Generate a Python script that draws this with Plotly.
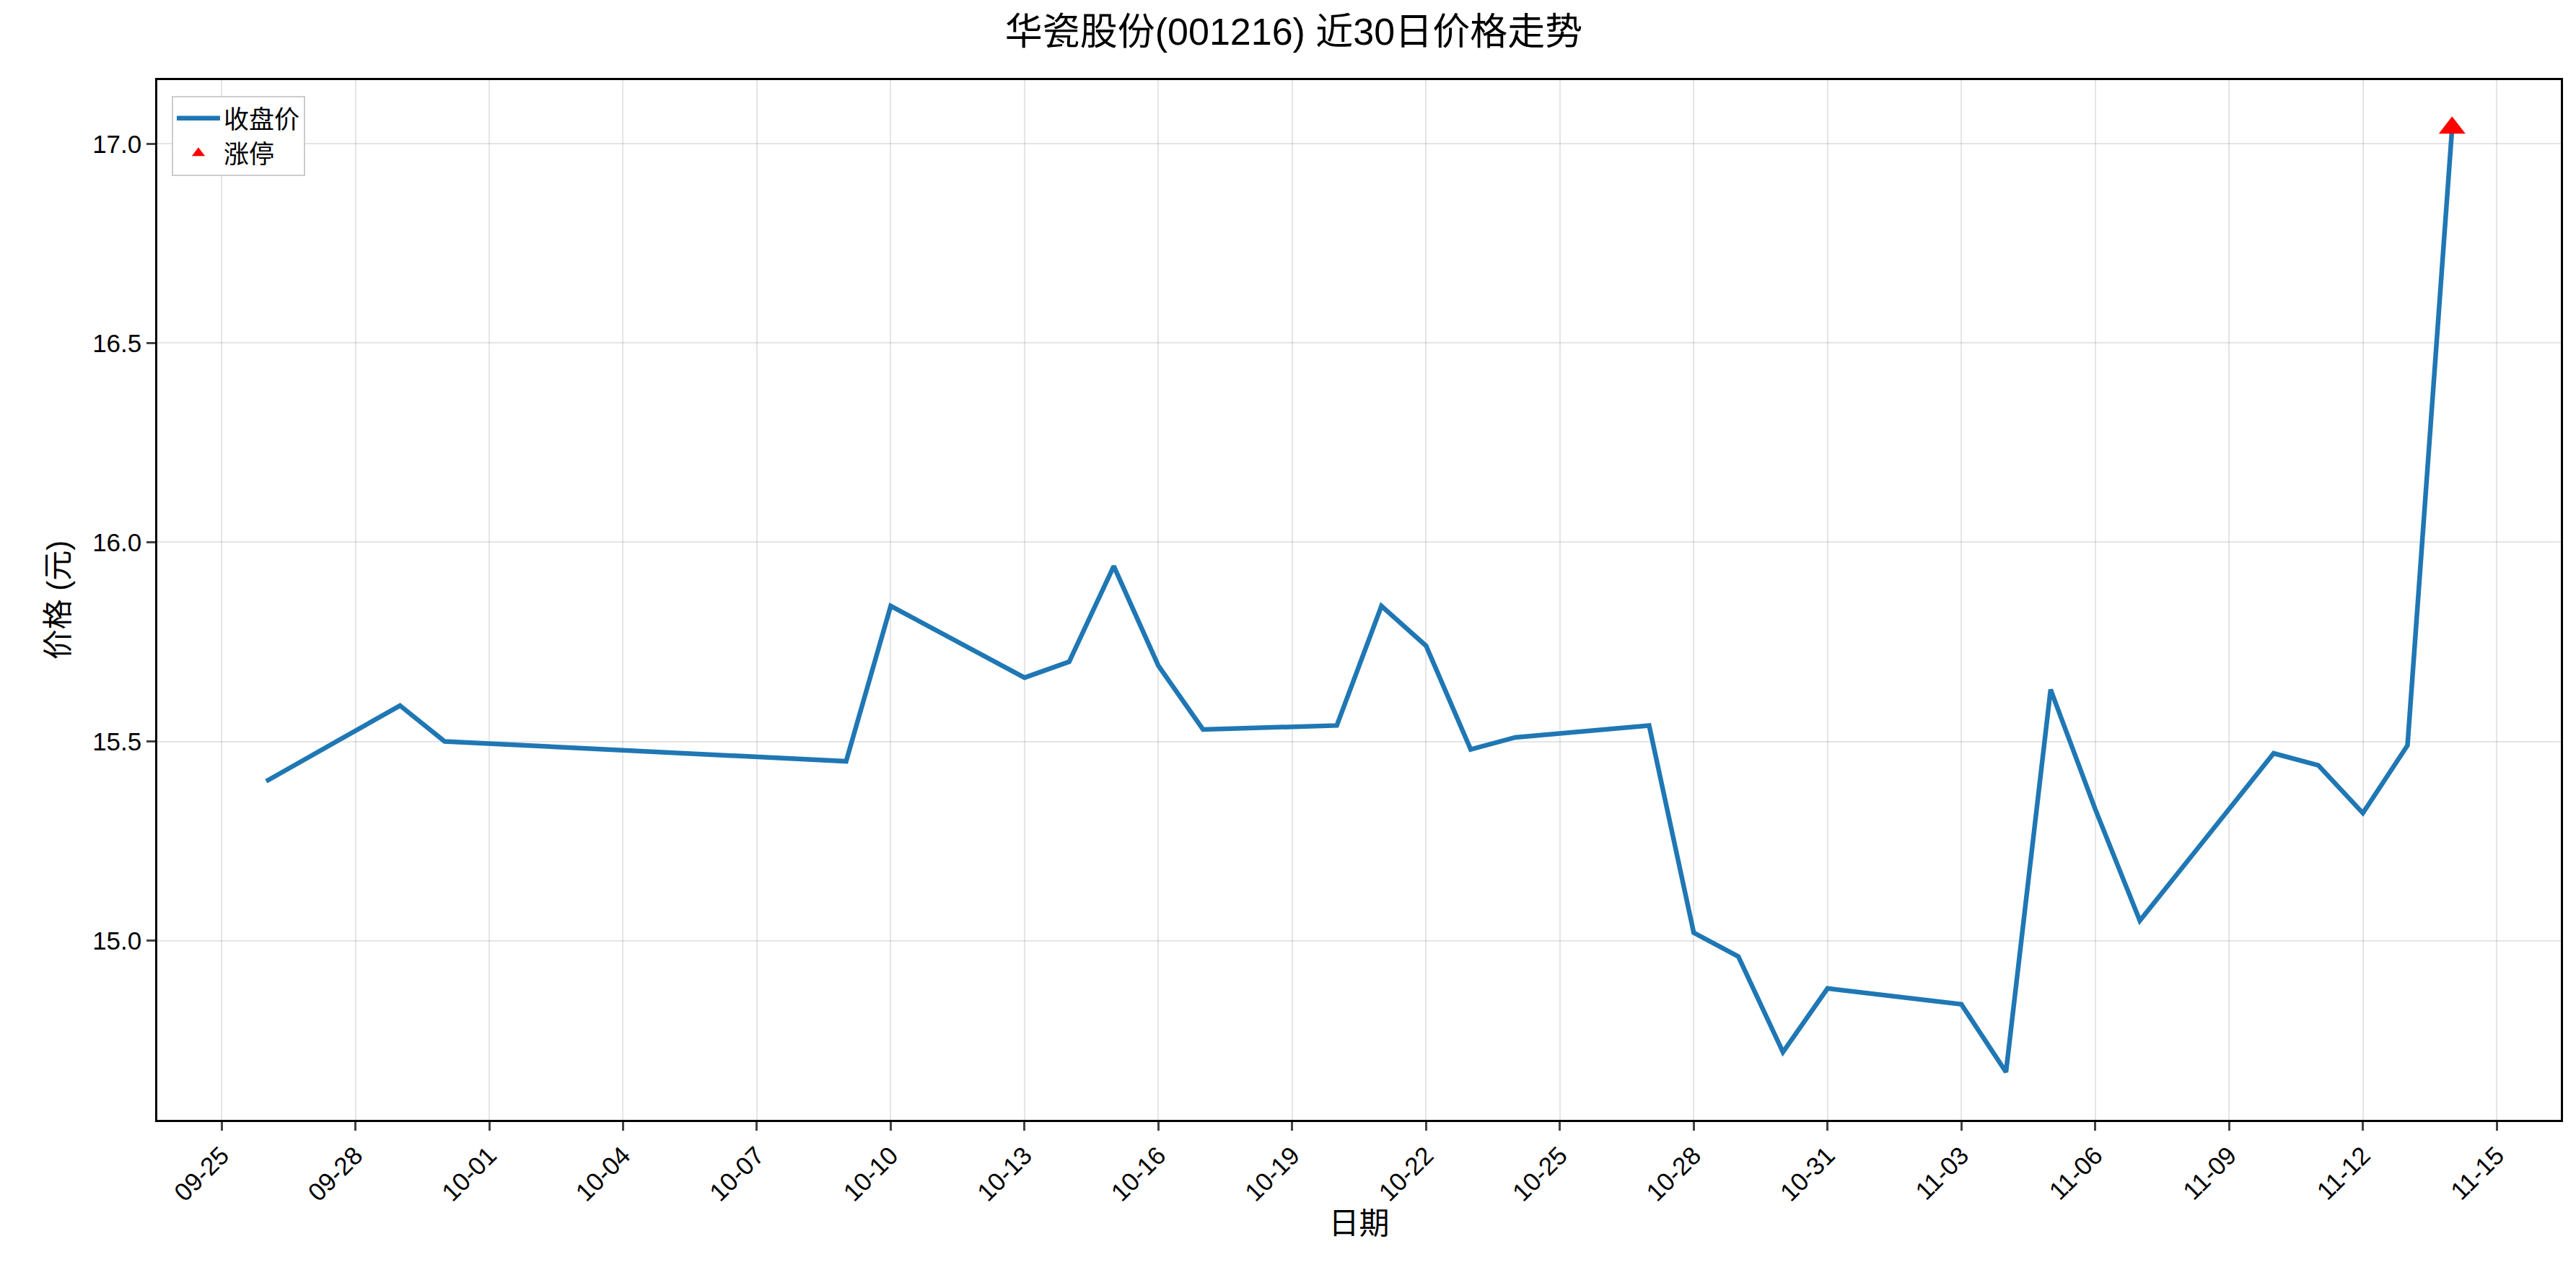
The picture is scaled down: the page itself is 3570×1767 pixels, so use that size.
import plotly.graph_objects as go

dates = ["2025-09-26","2025-09-29","2025-09-30","2025-10-09","2025-10-10","2025-10-13","2025-10-14","2025-10-15",
         "2025-10-16","2025-10-17","2025-10-20","2025-10-21","2025-10-22","2025-10-23","2025-10-24","2025-10-27",
         "2025-10-28","2025-10-29","2025-10-30","2025-10-31","2025-11-03","2025-11-04","2025-11-05","2025-11-06",
         "2025-11-07","2025-11-10","2025-11-11","2025-11-12","2025-11-13","2025-11-14"]
close = [15.40,15.59,15.50,15.45,15.84,15.66,15.70,15.94,15.69,15.53,15.54,15.84,15.74,15.48,15.51,15.54,
         15.02,14.96,14.72,14.88,14.84,14.67,15.63,15.33,15.05,15.47,15.44,15.32,15.49,17.04]
limit_dates = ["2025-11-14"]
limit_prices = [17.04]
tick_dates = ["2025-09-25","2025-09-28","2025-10-01","2025-10-04","2025-10-07","2025-10-10","2025-10-13",
              "2025-10-16","2025-10-19","2025-10-22","2025-10-25","2025-10-28","2025-10-31","2025-11-03",
              "2025-11-06","2025-11-09","2025-11-12","2025-11-15"]
tick_labels = [d[5:] for d in tick_dates]

font = "Liberation Sans, Arial, Noto Sans CJK SC"
fig = go.Figure()
fig.add_trace(go.Scatter(x=dates, y=close, mode="lines", name="收盘价",
                         line=dict(color="#1f77b4", width=6.5)))
fig.add_trace(go.Scatter(x=limit_dates, y=limit_prices, mode="markers", name="涨停",
                         marker=dict(symbol="triangle-up", color="red", size=32)))
axis = dict(showline=True, mirror=True, linecolor="black", linewidth=2.5, ticks="outside",
            ticklen=12, tickwidth=2.5, gridcolor="rgba(0,0,0,0.1)", gridwidth=2,
            tickfont=dict(size=35, color="black"), zeroline=False)
fig.update_layout(
    width=3570, height=1767, plot_bgcolor="white", paper_bgcolor="white",
    font=dict(family=font, color="black"),
    margin=dict(l=210, r=29, t=103, b=223),
    title=dict(text="华瓷股份(001216) 近30日价格走势", x=0.5, xanchor="center", y=0.99, yanchor="top",
               font=dict(size=52)),
    showlegend=True,
    legend=dict(x=0.006, y=0.985, xanchor="left", yanchor="top", bordercolor="#cccccc", borderwidth=2,
                font=dict(size=35), bgcolor="white", itemwidth=60),
    xaxis=dict(axis, type="date", range=["2025-09-23 13:26", "2025-11-16 10:30"],
               tickvals=tick_dates, ticktext=tick_labels, tickangle=-45,
               title=dict(text="日期", font=dict(size=42), standoff=10)),
    yaxis=dict(axis, range=[14.55, 17.16], tickvals=[15.0,15.5,16.0,16.5,17.0],
               ticktext=["15.0","15.5","16.0","16.5","17.0"],
               title=dict(text="价格 (元)", font=dict(size=42), standoff=20)),
)
fig.write_html("out.html")
